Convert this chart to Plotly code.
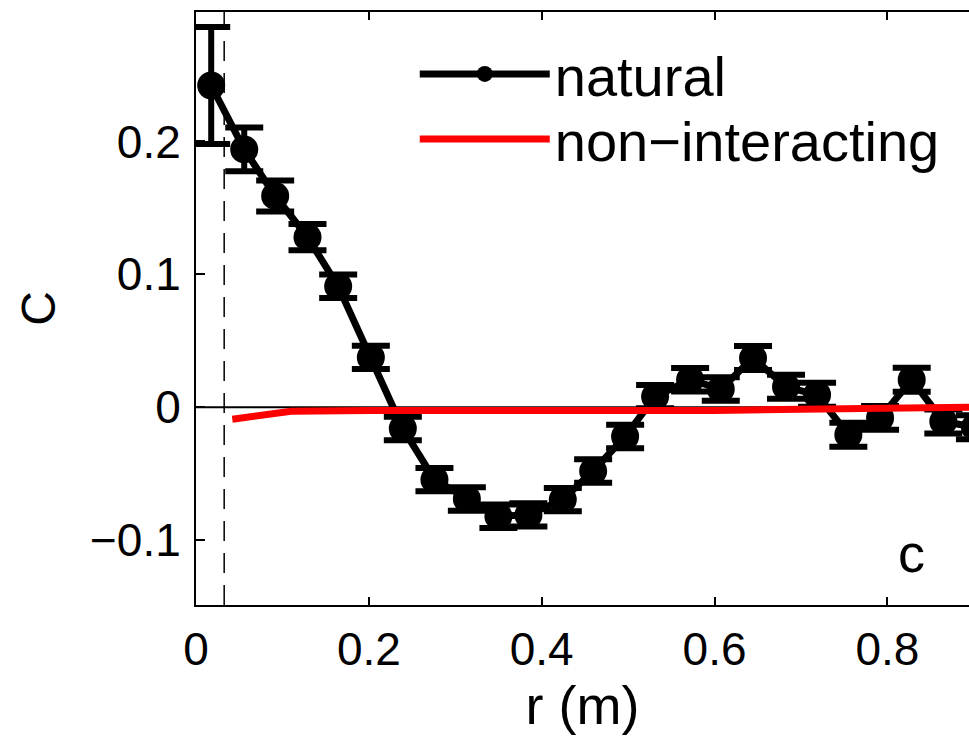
import plotly.graph_objects as go

# natural series
r_nat = [0.0176, 0.0558, 0.0916, 0.1290, 0.1645, 0.2023, 0.2393, 0.2759, 0.3134, 0.3499,
         0.3846, 0.4244, 0.4595, 0.4965, 0.5312, 0.5717, 0.6072, 0.6445, 0.6827, 0.7186,
         0.7548, 0.7915, 0.8281, 0.8647, 0.9013]
c_nat = [0.2421, 0.194, 0.159, 0.128, 0.091, 0.0375, -0.016, -0.0545, -0.069, -0.082,
         -0.081, -0.0695, -0.048, -0.022, 0.008, 0.0207, 0.0137, 0.037, 0.0154, 0.0094,
         -0.0207, -0.008, 0.0207, -0.0107, -0.015]
err_nat = [0.044, 0.0165, 0.0117, 0.0098, 0.0088, 0.0088, 0.0088, 0.0088, 0.0088, 0.0088,
           0.0088, 0.0088, 0.0088, 0.0088, 0.0088, 0.0088, 0.0088, 0.009, 0.009, 0.009,
           0.009, 0.009, 0.009, 0.009, 0.009]

# non-interacting series
r_non = [0.042, 0.11, 0.2, 0.3, 0.4, 0.5, 0.6, 0.7, 0.8, 0.9]
c_non = [-0.009, -0.003, -0.0025, -0.0025, -0.0025, -0.003, -0.0025, -0.0015, -0.0008, 0.0]

x_ticks = [0, 0.2, 0.4, 0.6, 0.8]
x_ticklabels = ["0", "0.2", "0.4", "0.6", "0.8"]
y_ticks = [-0.1, 0, 0.1, 0.2]
y_ticklabels = ["\u22120.1", "0", "0.1", "0.2"]

r_cut = 0.0326
x_range = [0, 0.8944]
y_range = [-0.1488, 0.2974]

FONT = "Liberation Sans, Arial, Helvetica, sans-serif"

fig = go.Figure()

# zero line
fig.add_trace(go.Scatter(x=x_range, y=[0, 0], mode="lines",
                         line=dict(color="black", width=2), showlegend=False,
                         hoverinfo="skip"))
# dashed cutoff
fig.add_trace(go.Scatter(x=[r_cut, r_cut], y=y_range, mode="lines",
                         line=dict(color="black", width=1.5, dash="20px,12px"),
                         showlegend=False, hoverinfo="skip"))

fig.add_trace(go.Scatter(
    x=r_nat, y=c_nat, mode="lines+markers", name="natural",
    line=dict(color="black", width=7),
    marker=dict(color="black", size=28, symbol="circle"),
    error_y=dict(type="data", array=err_nat, visible=True, color="black",
                 thickness=6, width=19),
    legend="legend",
))

fig.add_trace(go.Scatter(
    x=r_non, y=c_non, mode="lines", name="non\u2212interacting",
    line=dict(color="red", width=7),
    legend="legend2",
))

fig.add_annotation(x=0.828, y=-0.11, text="c", showarrow=False,
                   xref="x", yref="y", font=dict(size=54, color="black", family=FONT))

leg_common = dict(xanchor="left", yanchor="middle", bgcolor="rgba(0,0,0,0)",
                  borderwidth=0, font=dict(size=56, family=FONT, color="black"),
                  itemwidth=130)

fig.update_layout(
    width=969, height=736,
    margin=dict(l=196, r=0, t=12, b=131),
    paper_bgcolor="white", plot_bgcolor="white",
    font=dict(family=FONT, color="black", size=46),
    showlegend=True,
    legend=dict(x=0.283, y=0.8954, **leg_common),
    legend2=dict(x=0.283, y=0.7857, **leg_common),
)

fig.update_xaxes(range=x_range, tickvals=x_ticks, ticktext=x_ticklabels,
                 ticks="inside", ticklen=8, tickwidth=1.5, tickcolor="black",
                 showline=True, linecolor="black", linewidth=2, mirror="ticks",
                 showgrid=False, zeroline=False,
                 tickfont=dict(size=46), ticklabelstandoff=3,
                 title=dict(text="r (m)", font=dict(size=54), standoff=12))
fig.update_yaxes(range=y_range, tickvals=y_ticks, ticktext=y_ticklabels,
                 ticks="inside", ticklen=9, tickwidth=1.5, tickcolor="black",
                 showline=True, linecolor="black", linewidth=2, mirror=False,
                 showgrid=False, zeroline=False,
                 tickfont=dict(size=46), ticklabelstandoff=4,
                 title=dict(text="C", font=dict(size=48), standoff=19))

fig.write_html("out.html", config={"displayModeBar": False},
               post_script="document.body.style.margin='0';")
